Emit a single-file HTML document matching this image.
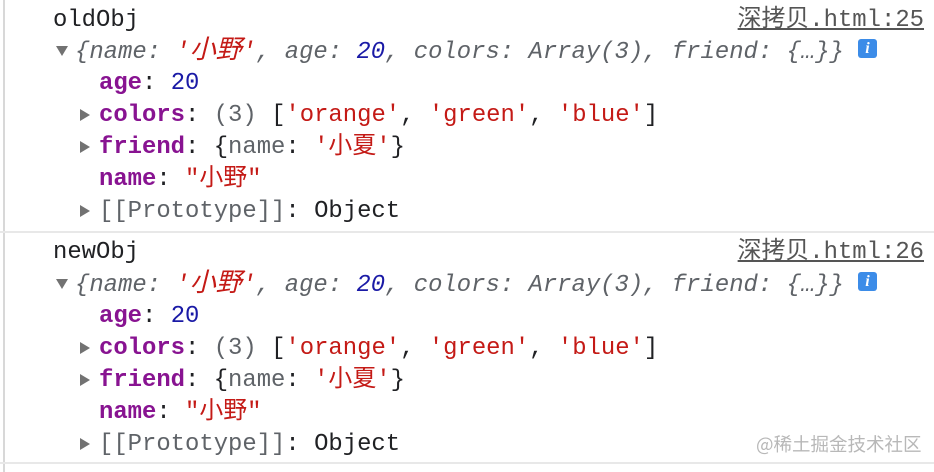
<!DOCTYPE html>
<html><head><meta charset="utf-8"><style>
body{margin:0;width:934px;height:472px;background:#fff;overflow:hidden;position:relative;font-family:"Liberation Mono","Noto Sans CJK SC",monospace;font-size:23.9px;color:#202124}
.l{position:absolute;white-space:pre;line-height:32px}
.it{font-style:italic;color:#5f6368}
.s{color:#c41a16}.n{color:#1a1aa6}
.c{font-size:26px}
.k{color:#881391;font-weight:bold}
.g{color:#5f6368}
.tri{position:absolute;width:0;height:0}
.dn{border-left:6px solid transparent;border-right:6px solid transparent;border-top:10px solid #727272}
.rt{border-top:6px solid transparent;border-bottom:6px solid transparent;border-left:10px solid #727272}
.lnk{position:absolute;right:10px;color:#555;text-decoration:underline;white-space:pre;line-height:32px}
.sep{position:absolute;left:0;width:934px;height:2px;background:#e8e8e8}
.info{position:absolute;width:19px;height:19px;background:#3c8ce8;border-radius:3px;color:#fff;font:bold italic 16px "Liberation Serif",serif;text-align:center;line-height:19px}
.bar{position:absolute;left:3px;top:0;width:2px;height:472px;background:#d8d8d8}
</style></head><body>
<div class="bar"></div>

<div class="l" style="left:53px;top:5px">oldObj</div>
<div class="lnk" style="top:5px">深拷贝.html:25</div>
<div class="tri dn" style="left:56px;top:46px"></div>
<div class="l it" style="left:75px;top:35px">{name: <span class="s">'<span class="c">小野</span>'</span>, age: <span class="n">20</span>, colors: Array(3), friend: {…}}</div>
<div class="info" style="left:858px;top:39px">i</div>
<div class="l" style="left:99px;top:68px"><span class="k">age</span>: <span class="n">20</span></div>
<div class="tri rt" style="left:80px;top:109px"></div>
<div class="l" style="left:99px;top:100px"><span class="k">colors</span>: <span class="g">(3)</span> [<span class="s">'orange'</span>, <span class="s">'green'</span>, <span class="s">'blue'</span>]</div>
<div class="tri rt" style="left:80px;top:141px"></div>
<div class="l" style="left:99px;top:132px"><span class="k">friend</span>: {<span class="g">name</span>: <span class="s">'小夏'</span>}</div>
<div class="l" style="left:99px;top:164px"><span class="k">name</span>: <span class="s">"小野"</span></div>
<div class="tri rt" style="left:80px;top:205px"></div>
<div class="l" style="left:99px;top:196px"><span class="g">[[Prototype]]</span>: Object</div>
<div class="sep" style="top:231px"></div>

<div class="l" style="left:53px;top:237px">newObj</div>
<div class="lnk" style="top:237px">深拷贝.html:26</div>
<div class="tri dn" style="left:56px;top:279px"></div>
<div class="l it" style="left:75px;top:268px">{name: <span class="s">'<span class="c">小野</span>'</span>, age: <span class="n">20</span>, colors: Array(3), friend: {…}}</div>
<div class="info" style="left:858px;top:272px">i</div>
<div class="l" style="left:99px;top:301px"><span class="k">age</span>: <span class="n">20</span></div>
<div class="tri rt" style="left:80px;top:342px"></div>
<div class="l" style="left:99px;top:333px"><span class="k">colors</span>: <span class="g">(3)</span> [<span class="s">'orange'</span>, <span class="s">'green'</span>, <span class="s">'blue'</span>]</div>
<div class="tri rt" style="left:80px;top:374px"></div>
<div class="l" style="left:99px;top:365px"><span class="k">friend</span>: {<span class="g">name</span>: <span class="s">'小夏'</span>}</div>
<div class="l" style="left:99px;top:397px"><span class="k">name</span>: <span class="s">"小野"</span></div>
<div class="tri rt" style="left:80px;top:438px"></div>
<div class="l" style="left:99px;top:429px"><span class="g">[[Prototype]]</span>: Object</div>
<div style="position:absolute;left:756px;top:431px;font:18.5px 'Noto Sans CJK SC',sans-serif;color:#b8b8b8;white-space:pre">@稀土掘金技术社区</div>
<div class="sep" style="top:462px"></div>
</body></html>
